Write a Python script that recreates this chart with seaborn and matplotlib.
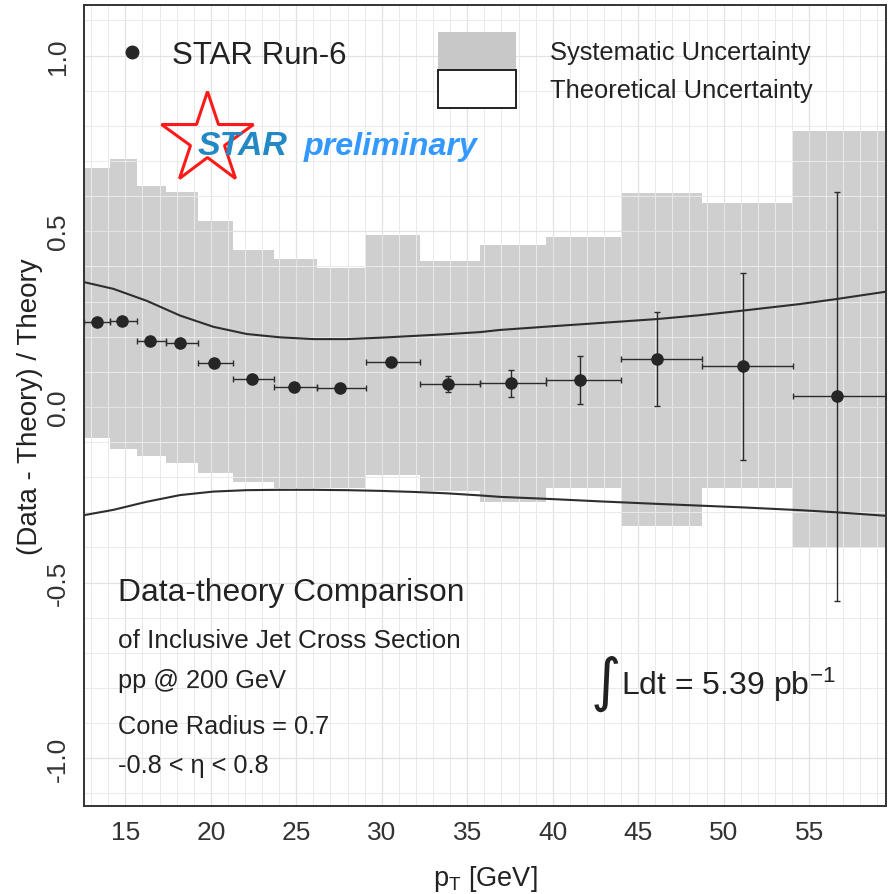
import numpy as np
import matplotlib
matplotlib.use("Agg")
import matplotlib.pyplot as plt
import seaborn as sns
from matplotlib.lines import Line2D
from matplotlib.patches import Patch
from matplotlib.ticker import MultipleLocator

# STAR Run-6 points, (Data - Theory) / Theory
pt = [13.36, 14.82, 16.43, 18.20, 20.19, 22.40, 24.84, 27.53, 30.54,
      33.85, 37.55, 41.62, 46.11, 51.12, 56.63]
ratio = [0.243, 0.245, 0.188, 0.181, 0.124, 0.079, 0.057, 0.054, 0.127,
         0.065, 0.067, 0.077, 0.136, 0.116, 0.030]
err_up = [0.004, 0.004, 0.005, 0.005, 0.005, 0.006, 0.006, 0.007, 0.008,
          0.024, 0.039, 0.069, 0.133, 0.264, 0.583]
err_down = [0.004, 0.004, 0.005, 0.005, 0.005, 0.006, 0.006, 0.007, 0.008,
            0.022, 0.040, 0.070, 0.133, 0.267, 0.582]

# pT bins
bin_edges = [12.60, 14.10, 15.67, 17.37, 19.27, 21.30, 23.67, 26.20, 29.09,
             32.25, 35.76, 39.63, 44.00, 48.76, 54.05, 59.50]

# systematic uncertainty band per bin
sys_top = [0.680, 0.706, 0.630, 0.613, 0.530, 0.448, 0.421, 0.396, 0.490,
           0.415, 0.461, 0.485, 0.609, 0.581, 0.784]
sys_bottom = [-0.089, -0.120, -0.139, -0.160, -0.189, -0.215, -0.232, -0.232,
              -0.193, -0.239, -0.272, -0.232, -0.340, -0.232, -0.398]

# theoretical uncertainty limits
theory_pt = [12.6, 14.3, 16.25, 18.2, 20.15, 22.1, 24.06, 26.0, 27.96, 29.9,
             31.86, 33.8, 35.77, 36.9, 39.8, 42.8, 46.1, 48.6, 51.1, 54.5,
             56.6, 59.5]
theory_up = [0.355, 0.336, 0.302, 0.260, 0.228, 0.2075, 0.198, 0.193, 0.193,
             0.197, 0.202, 0.207, 0.213, 0.219, 0.229, 0.239, 0.250, 0.261,
             0.274, 0.293, 0.307, 0.328]
theory_down = [-0.308, -0.293, -0.270, -0.251, -0.241, -0.237, -0.236, -0.236,
               -0.237, -0.239, -0.242, -0.246, -0.252, -0.256, -0.262, -0.269,
               -0.276, -0.281, -0.286, -0.294, -0.300, -0.310]

sns.set_theme(style="white")
plt.rcParams['font.family'] = ['Liberation Sans', 'DejaVu Sans']
plt.rcParams['axes.unicode_minus'] = False
plt.rcParams['mathtext.fontset'] = 'custom'
plt.rcParams['mathtext.rm'] = 'Liberation Sans'
plt.rcParams['mathtext.it'] = 'Liberation Sans:italic'
plt.rcParams['mathtext.bf'] = 'Liberation Sans:bold'

fig = plt.figure(figsize=(8.88, 8.95), dpi=100)
ax = fig.add_axes([84/888, 1 - 807/895, 802/888, 801/895])

lo = np.array(bin_edges[:-1])
hi = np.array(bin_edges[1:])
x = np.array(pt)

# Systematic band
ax.stairs(sys_top, bin_edges, baseline=sys_bottom, fill=True,
          color="#cfcfcf", linewidth=0, zorder=0.4)

# Theory curves
sns.lineplot(x=theory_pt, y=theory_up, color="#2e2e2e", linewidth=1.5, ax=ax, zorder=2)
sns.lineplot(x=theory_pt, y=theory_down, color="#2e2e2e", linewidth=1.5, ax=ax, zorder=2)

# Data
ax.errorbar(x, ratio, xerr=[x - lo, hi - x], yerr=[err_down, err_up],
            fmt="none", ecolor="#2b2b2b", elinewidth=1.0, capsize=2.4,
            capthick=1.0, zorder=3)
sns.scatterplot(x=pt, y=ratio, s=82, color="#262626", edgecolor="#262626",
                linewidth=0, ax=ax, zorder=4, legend=False)

ax.set_xlim(12.58, 59.5)
ax.set_ylim(-1.136, 1.144)
ax.set_xticks([15, 20, 25, 30, 35, 40, 45, 50, 55])
ax.set_yticks([-1.0, -0.5, 0.0, 0.5, 1.0])
ax.set_yticklabels(["-1.0", "-0.5", "0.0", "0.5", "1.0"])
ax.xaxis.set_minor_locator(MultipleLocator(1))
ax.yaxis.set_minor_locator(MultipleLocator(0.1))
ax.set_axisbelow(True)
ax.grid(which="major", color="#e2e2e2", linewidth=0.9)
ax.grid(which="minor", color="#eaeaea", linewidth=0.7)

ax.tick_params(axis="both", which="major", length=4.1, width=1.1,
               color="#333333", labelsize=19, labelcolor="#333333", pad=6)
ax.tick_params(axis="both", which="minor", length=0)
for lab in ax.get_yticklabels():
    lab.set_rotation(90)
    lab.set_va("center")
for s in ax.spines.values():
    s.set_color("#333333")
    s.set_linewidth(1.4)

ax.set_xlabel(r"p$_\mathrm{T}$ [GeV]", fontsize=19.5, color="#222222", labelpad=14)
ax.set_ylabel("(Data - Theory) / Theory", fontsize=20, color="#222222", labelpad=2)

# Legends
h1 = [Line2D([], [], marker="o", linestyle="none", color="#262626", markersize=9)]
leg1 = ax.legend(h1, ["STAR Run-6"], loc="center left", bbox_to_anchor=(0.040, 0.938),
                 frameon=False, fontsize=22.5, handlelength=1.0, handletextpad=0.78,
                 borderpad=0, borderaxespad=0)
for t in leg1.get_texts():
    t.set_color("#222222")
ax.add_artist(leg1)

h2 = [Patch(facecolor="#c8c8c8", edgecolor="none"),
      Patch(facecolor="white", edgecolor="#222222", linewidth=1.4)]
leg2 = ax.legend(h2, ["Systematic Uncertainty", "Theoretical Uncertainty"],
                 loc="upper left", bbox_to_anchor=(0.4414, 0.9667), frameon=False,
                 fontsize=18.4, handlelength=3.05, handleheight=1.93,
                 handletextpad=1.34, labelspacing=0, borderpad=0, borderaxespad=0)
for t in leg2.get_texts():
    t.set_color("#222222")

# STAR preliminary logo
ax.plot([0.1534], [0.8327], marker="*", markersize=69, markerfacecolor="none",
        markeredgecolor="#ff1a1a", markeredgewidth=2.2, transform=ax.transAxes,
        clip_on=False, zorder=5)
ax.text(0.1411, 0.814, "STAR", transform=ax.transAxes, fontsize=24.5,
        fontweight="bold", fontstyle="italic", color="#2389c4", zorder=6)
ax.text(0.2734, 0.814, "preliminary", transform=ax.transAxes, fontsize=23.2,
        fontweight="bold", fontstyle="italic", color="#3399ff", zorder=6)

# Annotations
c = "#222222"
ax.text(0.0428, 0.2576, "Data-theory Comparison", transform=ax.transAxes,
        fontsize=22.9, color=c)
ax.text(0.0428, 0.1981, "of Inclusive Jet Cross Section", transform=ax.transAxes,
        fontsize=18.8, color=c)
ax.text(0.0428, 0.1482, "pp @ 200 GeV", transform=ax.transAxes, fontsize=18.3, color=c)
ax.text(0.0428, 0.0911, "Cone Radius = 0.7", transform=ax.transAxes, fontsize=18.3, color=c)
ax.text(0.0428, 0.0421, "-0.8 < η < 0.8", transform=ax.transAxes, fontsize=18.3, color=c)

ax.text(0.632, 0.1545, "∫", transform=ax.transAxes, fontsize=42, va="center",
        family=["DejaVu Sans"], color=c)
ax.text(0.669, 0.1398, r"Ldt = 5.39 pb$^{-1}$", transform=ax.transAxes,
        fontsize=23, color=c)

fig.savefig("out.png", dpi=100)
